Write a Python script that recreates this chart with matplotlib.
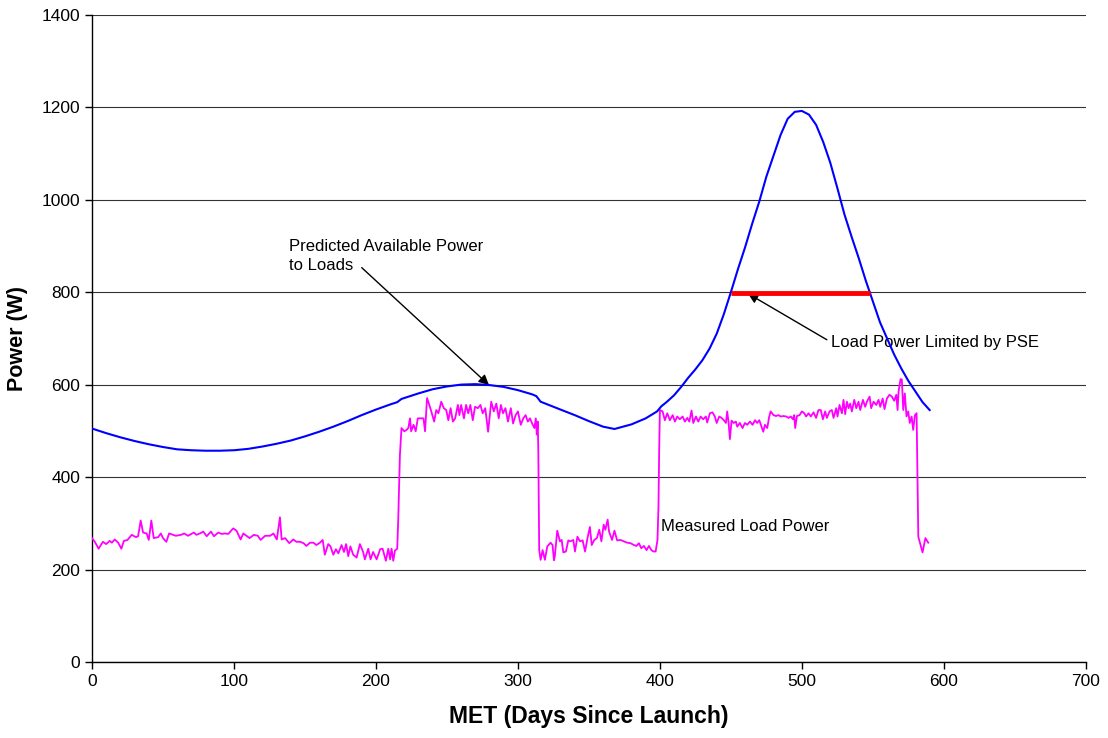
import matplotlib
matplotlib.use("Agg")
import matplotlib.pyplot as plt

plt.rcParams['font.family'] = ['Liberation Sans', 'DejaVu Sans']

# Predicted available power to loads (blue)
pred_days = [0, 10, 20, 30, 40, 50, 60, 70, 80, 90, 100, 110, 120, 130, 140, 150, 160, 170, 180,
             190, 200, 210, 215, 218, 230, 240, 250, 260, 270, 280, 290, 300, 310, 313, 316, 330,
             340, 350, 360, 368, 380, 390, 398, 401, 405, 410, 415, 420, 425, 430, 435, 440, 445,
             450, 455, 460, 465, 470, 475, 480, 485, 490, 495, 500, 505, 510, 515, 520, 525, 530,
             535, 540, 545, 550, 555, 560, 565, 570, 575, 580, 585, 590]
pred_power = [505, 495, 486, 478, 471, 465, 460, 458, 457, 457, 458, 461, 466, 472, 479, 488, 498,
              509, 521, 534, 546, 557, 562, 569, 581, 590, 596, 600, 601, 599, 595, 588, 579, 575,
              563, 546, 534, 521, 509, 504, 514, 527, 542, 553, 563, 577, 595, 615, 633, 653, 678,
              710, 752, 800, 850, 897, 948, 996, 1050, 1095, 1140, 1175, 1190, 1192, 1184, 1162,
              1125, 1080, 1025, 968, 920, 874, 825, 780, 735, 700, 665, 635, 608, 585, 562, 545]

# Load power limited by PSE (red)
limit_days = [450, 548]
limit_power = [798, 798]

# Measured load power (magenta)
meas_days = [0, 2, 4.7, 7.7, 10, 12.5, 14, 16, 18.5, 20.7, 22.5, 25, 28, 31, 32.5, 34.3, 36, 38.5,
             40, 41.8, 43.5, 46.6, 48.5, 50, 52.4, 54.3, 57, 59, 62.7, 65, 67.6, 71.8, 73.5, 76,
             78.4, 80.8, 83.8, 85.9, 89, 91.3, 93.6, 96, 99.5, 101.8, 104.7, 106.6, 111, 114,
             116.8, 118.8, 122, 125.5, 127.8, 130.2, 132.4, 133.6, 136, 139, 141.8, 144, 146.5,
             149, 151, 153.5, 156, 158, 160.6, 162.5, 164, 166.4, 168, 170, 171.8, 173.5, 175.8,
             177.5, 179, 180.5, 182, 184, 186.4, 188.7, 191, 192.2, 194.6, 196.2, 198, 200.5, 203,
             204.7, 207, 208.7, 210, 211, 212.2, 213.4, 215, 215.7, 216.9, 218, 220, 221.6, 222.8,
             224, 224.8, 226.5, 228, 229.5, 231, 233.5, 234.6, 236, 237.6, 239, 241, 242.5, 244,
             246, 247.8, 249.5, 251, 252.6, 254.2, 255.8, 257.7, 258.8, 260, 262, 263.5, 265,
             266.5, 268.2, 269.8, 271.8, 273.6, 275.2, 277, 279, 281.2, 283, 284.8, 286.5, 288,
             289.5, 291.2, 293, 295, 296.6, 298.4, 300, 302, 303.8, 305.4, 307, 308.5, 310, 311.6,
             312.6, 313.3, 314, 314.4, 315, 316, 317.4, 319, 320.7, 323, 324.4, 325.4, 326, 327.7,
             329.6, 330.8, 332, 333.8, 335.5, 337, 339, 340.2, 341.9, 343.7, 345.6, 347.3, 349,
             350.7, 352, 353.8, 355.6, 357.3, 358.8, 360.4, 361.6, 363.2, 364.2, 366.3, 368, 369.9,
             372.2, 374.6, 377, 379.3, 381.7, 383.5, 385.2, 386.9, 388.7, 390.6, 392.3, 394, 395.4,
             397, 398.3, 399, 399.5, 400, 401.9, 403.5, 405.2, 407, 409, 410.6, 412.2, 414, 416,
             417.6, 419.3, 420.7, 422.3, 423.5, 425.4, 427, 428.7, 430.5, 432.4, 433.3, 435.2, 437,
             438.7, 440, 441.8, 443.4, 445, 446.5, 447.4, 448.4, 449.3, 450.5, 452, 453.5, 454.5,
             456.3, 458.2, 459.9, 461.5, 463.4, 465.3, 467, 468.5, 470, 471.6, 472.8, 474, 475.6,
             477, 478, 480, 481.8, 483.5, 485.1, 487, 489, 490.6, 492.2, 493.7, 494.6, 495.3,
             496.5, 498.4, 500, 501.7, 503, 504.7, 506.3, 508.2, 510, 511.7, 513.3, 514.8, 516.4,
             517.6, 519.5, 521.1, 522.3, 524.2, 525.1, 526.5, 528.2, 529.3, 530.5, 531.7, 532.9,
             534, 535.2, 536.9, 538.3, 539.9, 541.1, 543, 544.6, 545.8, 547.7, 548.8, 550.5, 552.4,
             554, 555.2, 556.9, 558.2, 559.9, 561.7, 563.4, 565, 566.5, 567.4, 568.1, 569.5, 570.4,
             571.4, 572.5, 573.7, 574.9, 576, 577.3, 578.4, 579.6, 580.8, 582, 585, 587, 589]
meas_power = [268, 260, 245, 260, 255, 262, 258, 265, 258, 245, 262, 264, 275, 270, 272, 306, 280,
              278, 264, 306, 268, 270, 278, 268, 260, 278, 275, 273, 275, 278, 273, 280, 275, 278,
              282, 272, 282, 272, 280, 277, 278, 277, 289, 284, 265, 278, 268, 275, 273, 264, 273,
              273, 278, 265, 313, 265, 268, 257, 265, 260, 260, 257, 251, 258, 258, 253, 258, 264,
              232, 255, 250, 232, 244, 235, 253, 238, 255, 229, 250, 232, 226, 255, 238, 222, 245,
              222, 238, 222, 244, 245, 219, 245, 222, 245, 219, 241, 245, 307, 448, 506, 499, 502,
              506, 527, 499, 513, 499, 527, 527, 527, 499, 571, 556, 542, 520, 545, 538, 563, 549,
              545, 523, 549, 520, 527, 556, 534, 556, 527, 556, 538, 556, 523, 552, 549, 556, 538,
              549, 498, 563, 542, 559, 527, 556, 538, 549, 520, 549, 516, 534, 542, 513, 527, 534,
              520, 527, 516, 506, 527, 492, 520, 448, 242, 221, 242, 221, 250, 258, 253, 220, 229,
              284, 261, 264, 237, 239, 263, 261, 264, 239, 271, 261, 263, 239, 268, 292, 253, 264,
              268, 286, 261, 297, 286, 308, 282, 264, 284, 263, 264, 261, 258, 257, 253, 251, 257,
              246, 251, 242, 251, 242, 239, 239, 264, 336, 459, 545, 542, 523, 538, 523, 534, 520,
              531, 525, 531, 520, 528, 520, 544, 517, 531, 520, 531, 525, 531, 518, 538, 540, 531,
              517, 531, 528, 523, 517, 542, 517, 482, 522, 517, 520, 509, 517, 506, 517, 513, 520,
              513, 523, 517, 523, 509, 498, 513, 506, 531, 542, 534, 532, 534, 531, 532, 531, 528,
              531, 525, 534, 506, 532, 534, 542, 538, 531, 538, 531, 540, 528, 545, 545, 525, 542,
              528, 542, 545, 528, 549, 531, 556, 538, 567, 536, 563, 549, 559, 542, 567, 549, 563,
              545, 567, 552, 563, 574, 549, 563, 556, 567, 552, 570, 547, 570, 578, 574, 565, 578,
              545, 585, 612, 611, 545, 581, 531, 542, 517, 531, 502, 534, 538, 271, 237, 268, 258]

x_ticks = [0, 100, 200, 300, 400, 500, 600, 700]
y_ticks = [0, 200, 400, 600, 800, 1000, 1200, 1400]

fig = plt.figure(figsize=(11.08, 7.38), dpi=100)
ax = fig.add_axes([0.083, 0.103, 0.897, 0.877])

ax.set_xlim(0, 700)
ax.set_ylim(0, 1400)
ax.set_xticks(x_ticks)
ax.set_yticks(y_ticks)
ax.yaxis.grid(True, color='#333333', linewidth=0.8)
ax.set_axisbelow(True)

for s in ['top', 'right']:
    ax.spines[s].set_visible(False)
for s in ['left', 'bottom']:
    ax.spines[s].set_color('black')
    ax.spines[s].set_linewidth(1.0)
ax.tick_params(axis='both', direction='out', length=5, width=1, labelsize=12.5, colors='black')

ax.plot(meas_days, meas_power, color='#FF00FF', linewidth=1.3, zorder=3)
ax.plot(pred_days, pred_power, color='#0000FF', linewidth=1.5, zorder=4)
ax.plot(limit_days, limit_power, color='#FF0000', linewidth=3.5, zorder=5, solid_capstyle='butt')

ax.set_xlabel('MET (Days Since Launch)', fontsize=16.5, fontweight='bold', labelpad=12)
ax.set_ylabel('Power (W)', fontsize=15.5, fontweight='bold', labelpad=10)

arrow = dict(arrowstyle='-|>', color='black', lw=1.0, mutation_scale=15, shrinkA=0, shrinkB=0)
ax.text(138.7, 878, 'Predicted Available Power\nto Loads', fontsize=12, ha='left', va='center',
        linespacing=1.4)
ax.annotate('', xy=(279.6, 599), xytext=(190, 853), arrowprops=arrow)
ax.text(520.4, 690, 'Load Power Limited by PSE', fontsize=12, ha='left', va='center')
ax.annotate('', xy=(462, 797), xytext=(517.6, 697), arrowprops=arrow)
ax.text(400.5, 292, 'Measured Load Power', fontsize=12, ha='left', va='center')

fig.savefig('out.png', dpi=100)
